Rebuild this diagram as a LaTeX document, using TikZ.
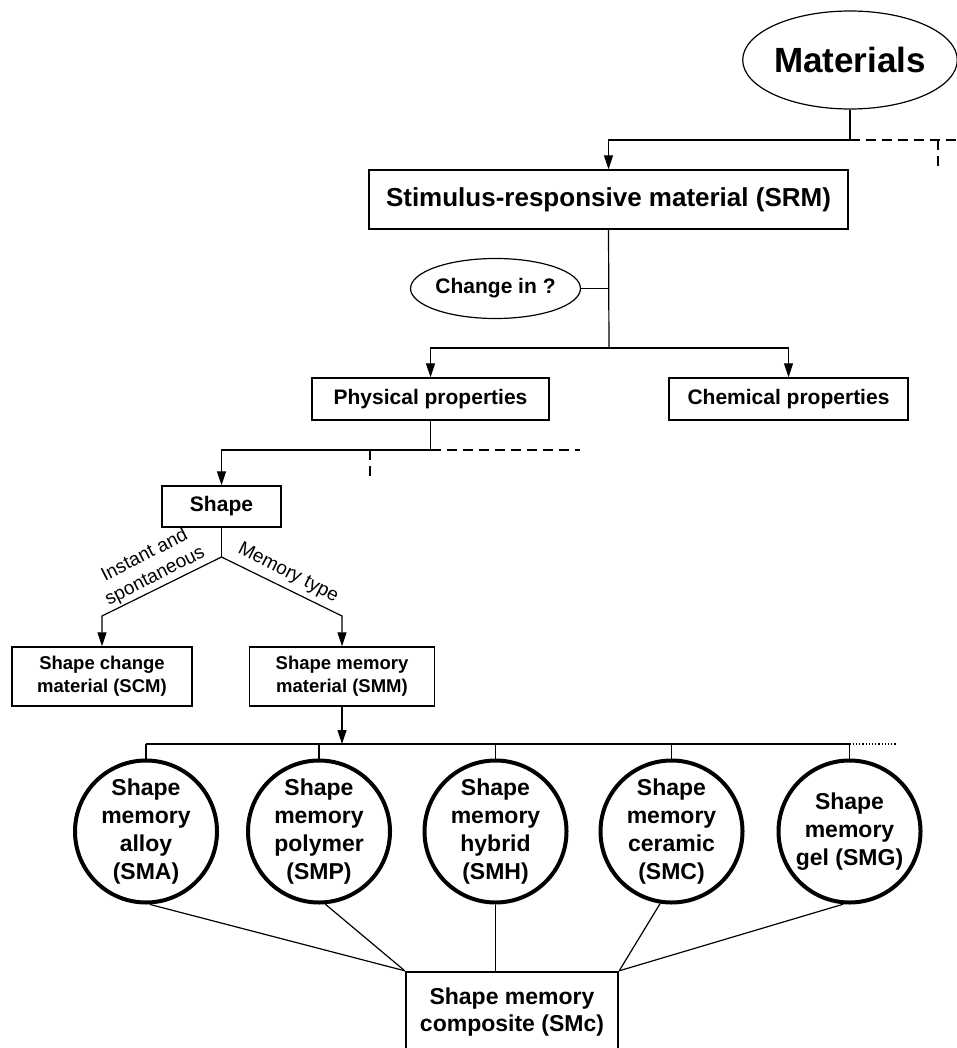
\documentclass[tikz,border=0pt]{standalone}
\usepackage{fontspec}
\setmainfont{Liberation Sans}
\usetikzlibrary{shapes.geometric,arrows.meta}

\begin{document}
\begin{tikzpicture}[x=1pt, y=-1pt,
        every text node part/.style={align=center},
        box/.style={draw, line width=1.4pt, inner sep=0pt},
        oval/.style={draw, ellipse, line width=1.2pt, inner sep=0pt},
        disc/.style={draw, circle, line width=4pt, minimum size=142pt, inner sep=0pt, font=\fontsize{23}{28}\selectfont\bfseries},
        link/.style={line width=1.2pt},
        arr/.style={link, -{Triangle[length=14pt, width=9pt]}},
        dash line/.style={link, dash pattern=on 10pt off 6pt},
        tag/.style={font=\fontsize{19}{23}\selectfont, inner sep=1pt}]
    \useasboundingbox (0,0) rectangle (957,1048);

    % boxes and ovals
    \node[oval, minimum width=184pt, minimum height=98pt, font=\fontsize{35}{40}\selectfont\bfseries] (mat) at (850,60) {Materials};
    \node[box, minimum width=479pt, minimum height=59pt, font=\fontsize{26}{30}\selectfont\bfseries] (srm) at (608.5,199.5) {Stimulus-responsive material (SRM)};
    \node[oval, minimum width=166pt, minimum height=60pt, font=\fontsize{21}{25}\selectfont\bfseries] (chg) at (495.5,288.5) {Change in ?};
    \node[box, minimum width=237pt, minimum height=42pt, font=\fontsize{21}{25}\selectfont\bfseries] (phy) at (430.5,399) {Physical properties};
    \node[box, minimum width=239pt, minimum height=42pt, font=\fontsize{21}{25}\selectfont\bfseries] (chem) at (788.5,399) {Chemical properties};
    \node[box, minimum width=119pt, minimum height=41pt, font=\fontsize{21}{25}\selectfont\bfseries] (shp) at (221.5,506.5) {Shape};
    \node[box, minimum width=180pt, minimum height=59pt, font=\fontsize{18.5}{23}\selectfont\bfseries] (scm) at (102,676.5) {Shape change\\material (SCM)};
    \node[box, minimum width=185pt, minimum height=59pt, font=\fontsize{18.5}{23}\selectfont\bfseries] (smm) at (342,676.5) {Shape memory\\material (SMM)};

    \node[disc] (sma) at (146,831.5) {Shape\\memory\\alloy\\(SMA)};
    \node[disc] (smp) at (319,831.5) {Shape\\memory\\polymer\\(SMP)};
    \node[disc] (smh) at (495.5,831.5) {Shape\\memory\\hybrid\\(SMH)};
    \node[disc] (cer) at (671.5,831.5) {Shape\\memory\\ceramic\\(SMC)};
    \node[disc] (smg) at (849.5,831.5) {Shape\\memory\\gel (SMG)};
    \node[box, line width=2.4pt, minimum width=212pt, minimum height=80pt, font=\fontsize{23}{27}\selectfont\bfseries] (comp) at (512,1012) {Shape memory\\composite (SMc)};

    % forks
    \coordinate (mfork) at (850,140);
    \coordinate (mout) at (960,140);
    \coordinate (mdown) at (938,168);
    \coordinate (sfork) at (609,348);
    \coordinate (pfork) at (430.5,450);
    \coordinate (pout) at (580,450);
    \coordinate (pdown) at (370,479);
    \coordinate (sp) at (221.5,557);
    \coordinate (sl) at (102,616);
    \coordinate (sr) at (342,616);
    \coordinate (mmfork) at (342,744);
    \coordinate (gout) at (897,744);

    \draw[arr] (mat.south) -- (mfork) -| (srm.north);
    \draw[dash line] (mfork) -- (mout);
    \draw[dash line] (mdown |- mfork) -- (mdown);

    \draw[link] (srm.south) -- (sfork);
    \draw[link] (chg.east) -- (chg.east -| sfork);
    \draw[arr] (sfork) -| (phy.north);
    \draw[arr] (sfork) -| (chem.north);

    \draw[arr] (phy.south) -- (pfork) -| (shp.north);
    \draw[dash line] (pfork) -- (pout);
    \draw[dash line] (pdown |- pfork) -- (pdown);

    \draw[link] (shp.south) -- (sp);
    \draw[arr] (sp) -- (sl) -- (scm.north);
    \draw[arr] (sp) -- (sr) -- (smm.north);
    \node[tag, rotate=27] (lins) at (150,566) {Instant and\\spontaneous};
    \node[tag, rotate=-27] (lmem) at (288,573) {Memory type};

    \draw[arr] (smm.south) -- (mmfork);
    \draw[link] (sma.north |- mmfork) -- (smg.north |- mmfork);
    \draw[link, dotted] (smg.north |- mmfork) -- (gout);
    \foreach \c in {sma,smp,smh,cer,smg}
        \draw[link] (\c.north |- mmfork) -- (\c.north);

    \draw[link] (sma.-87) -- (comp.north west);
    \draw[link] (smp.-85) -- (comp.north west);
    \draw[link] (smh.south) -- (smh.south |- comp.north);
    \draw[link] (cer.-99) -- (comp.north east);
    \draw[link] (smg.-95) -- (comp.north east);
\end{tikzpicture}
\end{document}
